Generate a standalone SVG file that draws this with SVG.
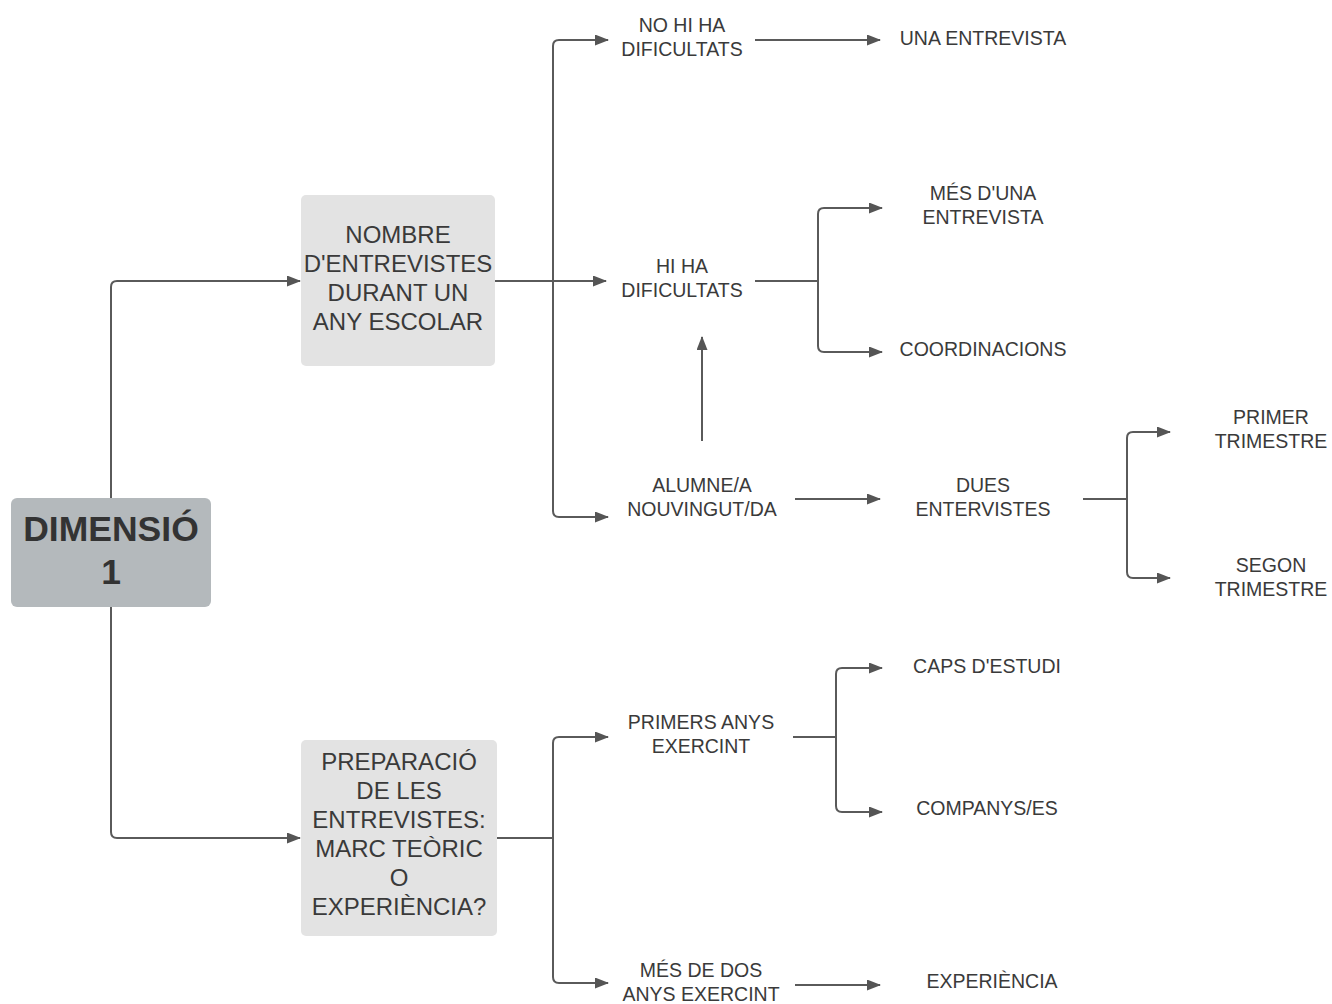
<svg xmlns="http://www.w3.org/2000/svg" width="1332" height="1004" viewBox="0 0 1332 1004">
<defs>
<marker id="arr" markerUnits="userSpaceOnUse" markerWidth="14" markerHeight="12" refX="13" refY="5.5" orient="auto">
<path d="M0,0 L14,5.5 L0,11 z" fill="#555"/>
</marker>
<style>
.c{fill:none;stroke:#5a5a5a;stroke-width:2}
.a{marker-end:url(#arr)}
.t{font-family:"Liberation Sans",Arial,sans-serif;font-size:19.5px;fill:#3a3a3a;text-anchor:middle}
.b{font-family:"Liberation Sans",Arial,sans-serif;font-size:24px;fill:#3a3a3a;text-anchor:middle}
.d{font-family:"Liberation Sans",Arial,sans-serif;font-size:35.5px;font-weight:bold;fill:#333;text-anchor:middle}
</style>
</defs>
<rect width="1332" height="1004" fill="#fff"/>
<g id="connectors">
<path class="c a" d="M111,498 V287 Q111,281 117,281 H300"/>
<path class="c a" d="M111,607 V832 Q111,838 117,838 H300"/>
<path class="c" d="M495,281 H553"/>
<path class="c a" d="M553,281 V46 Q553,40 559,40 H608"/>
<path class="c a" d="M553,281 H606"/>
<path class="c a" d="M553,281 V511 Q553,517 559,517 H608"/>
<path class="c a" d="M755,40 H880"/>
<path class="c" d="M755,281 H818"/>
<path class="c a" d="M818,281 V214 Q818,208 824,208 H882"/>
<path class="c a" d="M818,281 V346 Q818,352 824,352 H882"/>
<path class="c a" d="M702,441 V337"/>
<path class="c a" d="M795,499 H880"/>
<path class="c" d="M1083,499 H1127"/>
<path class="c a" d="M1127,499 V438 Q1127,432 1133,432 H1170"/>
<path class="c a" d="M1127,499 V572 Q1127,578 1133,578 H1170"/>
<path class="c" d="M497,838 H553"/>
<path class="c a" d="M553,838 V743 Q553,737 559,737 H608"/>
<path class="c a" d="M553,838 V977 Q553,983 559,983 H608"/>
<path class="c a" d="M795,985 H880"/>
<path class="c" d="M793,737 H836"/>
<path class="c a" d="M836,737 V674 Q836,668 842,668 H882"/>
<path class="c a" d="M836,737 V806 Q836,812 842,812 H882"/>
</g>
<g id="dimensio">
<rect x="11" y="498" width="200" height="109" rx="6" fill="#b4b9bc"/>
<text class="d" x="111" y="541">DIMENSIÓ</text>
<text class="d" x="111" y="584">1</text>
</g>
<g id="nombre">
<rect x="301" y="195" width="194" height="171" rx="5" fill="#e3e3e3"/>
<text class="b" x="398" y="243">NOMBRE</text>
<text class="b" x="398" y="272">D'ENTREVISTES</text>
<text class="b" x="398" y="301">DURANT UN</text>
<text class="b" x="398" y="330">ANY ESCOLAR</text>
</g>
<g id="preparacio">
<rect x="301" y="740" width="196" height="196" rx="5" fill="#e3e3e3"/>
<text class="b" x="399" y="770">PREPARACIÓ</text>
<text class="b" x="399" y="799">DE LES</text>
<text class="b" x="399" y="828">ENTREVISTES:</text>
<text class="b" x="399" y="857">MARC TEÒRIC</text>
<text class="b" x="399" y="886">O</text>
<text class="b" x="399" y="915">EXPERIÈNCIA?</text>
</g>
<g id="no-hi-ha"><text class="t" x="682" y="32">NO HI HA</text><text class="t" x="682" y="56">DIFICULTATS</text></g>
<g id="una-entrevista"><text class="t" x="983" y="45">UNA ENTREVISTA</text></g>
<g id="hi-ha"><text class="t" x="682" y="273">HI HA</text><text class="t" x="682" y="297">DIFICULTATS</text></g>
<g id="mes-duna"><text class="t" x="983" y="200">MÉS D'UNA</text><text class="t" x="983" y="224">ENTREVISTA</text></g>
<g id="coordinacions"><text class="t" x="983" y="356">COORDINACIONS</text></g>
<g id="alumne"><text class="t" x="702" y="492">ALUMNE/A</text><text class="t" x="702" y="516">NOUVINGUT/DA</text></g>
<g id="dues"><text class="t" x="983" y="492">DUES</text><text class="t" x="983" y="516">ENTERVISTES</text></g>
<g id="primer"><text class="t" x="1271" y="424">PRIMER</text><text class="t" x="1271" y="448">TRIMESTRE</text></g>
<g id="segon"><text class="t" x="1271" y="572">SEGON</text><text class="t" x="1271" y="596">TRIMESTRE</text></g>
<g id="primers-anys"><text class="t" x="701" y="729">PRIMERS ANYS</text><text class="t" x="701" y="753">EXERCINT</text></g>
<g id="caps"><text class="t" x="987" y="673">CAPS D'ESTUDI</text></g>
<g id="companys"><text class="t" x="987" y="815">COMPANYS/ES</text></g>
<g id="mes-de-dos"><text class="t" x="701" y="977">MÉS DE DOS</text><text class="t" x="701" y="1001">ANYS EXERCINT</text></g>
<g id="experiencia"><text class="t" x="992" y="988">EXPERIÈNCIA</text></g>
</svg>
